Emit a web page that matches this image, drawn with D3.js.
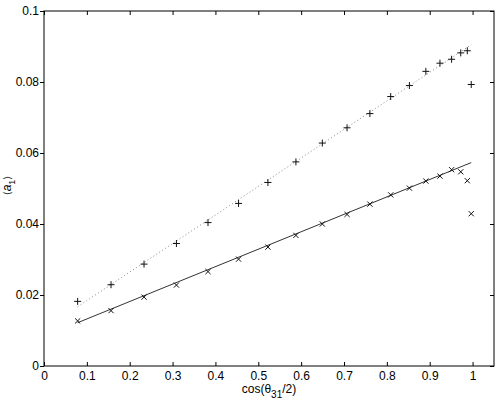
<!DOCTYPE html>
<html>
<head>
<meta charset="utf-8">
<script src="https://cdn.jsdelivr.net/npm/d3@7"></script>
<style>
  body { margin: 0; background: #fff; }
  svg { display: block; font-family: "Liberation Sans", Arial, Helvetica, sans-serif; }
</style>
</head>
<body>
<script>
// x values: cos(theta_31 / 2)
var cosVals = [0.0785, 0.1564, 0.2334, 0.3090, 0.3827, 0.4540, 0.5225, 0.5878, 0.6494, 0.7071,
               0.7604, 0.8090, 0.8526, 0.8910, 0.9239, 0.9511, 0.9724, 0.9877, 0.9969];
// "+" series
var plusVals = [0.0182, 0.0229, 0.0287, 0.0345, 0.0404, 0.0458, 0.0517, 0.0575, 0.0628, 0.0671,
                0.0711, 0.0759, 0.0790, 0.0830, 0.0853, 0.0864, 0.0882, 0.0888, 0.0793];
// "x" series
var crossVals = [0.0127, 0.0156, 0.0194, 0.0228, 0.0266, 0.0301, 0.0335, 0.0368, 0.0400, 0.0427,
                 0.0456, 0.0482, 0.0501, 0.0521, 0.0535, 0.0553, 0.0547, 0.0522, 0.0429];
// straight-line fits (end points)
var solidFit = [[0.0785, 0.0122], [0.9969, 0.0573]];
var dottedFit = [[0.0785, 0.0167], [0.9969, 0.0905]];

var xTicks = [0, 0.1, 0.2, 0.3, 0.4, 0.5, 0.6, 0.7, 0.8, 0.9, 1];
var yTicks = [0, 0.02, 0.04, 0.06, 0.08, 0.1];

var width = 498, height = 403;
var margins = {top: 11, left: 44, right: 4, bottom: 37};

var svg = d3.select("body").append("svg")
    .attr("width", width)
    .attr("height", height);

var x = d3.scaleLinear().domain([0, 1.05]).range([margins.left, width - margins.right]);
var y = d3.scaleLinear().domain([0, 0.1]).range([height - margins.bottom, margins.top]);

var x0 = x.range()[0], x1 = x.range()[1], y0 = y.range()[0], y1 = y.range()[1];
var tickLen = 4;

// axes: bottom + top with inward ticks, left + right
var bottomAxis = d3.axisBottom(x).tickValues(xTicks).tickSizeInner(-tickLen).tickSizeOuter(0)
    .tickPadding(5).tickFormat(d3.format("~g"));
svg.append("g").attr("class", "axis")
    .attr("transform", "translate(0," + y0 + ")")
    .call(bottomAxis);

svg.append("g").attr("class", "axis")
    .attr("transform", "translate(0," + y1 + ")")
    .call(d3.axisTop(x).tickValues(xTicks).tickSizeInner(-tickLen).tickSizeOuter(0).tickFormat(""));

svg.append("g").attr("class", "axis")
    .attr("transform", "translate(" + x0 + ",0)")
    .call(d3.axisLeft(y).tickValues(yTicks).tickSizeInner(tickLen).tickSizeOuter(0)
        .tickPadding(1).tickFormat(d3.format("~g")));

svg.append("g").attr("class", "axis")
    .attr("transform", "translate(" + x1 + ",0)")
    .call(d3.axisRight(y).tickValues(yTicks).tickSizeInner(-tickLen).tickSizeOuter(0).tickFormat(""));

svg.selectAll(".axis .domain").remove();
svg.selectAll(".axis line").attr("stroke", "#000");
svg.selectAll(".axis text")
    .attr("font-size", "12px")
    .attr("fill", "#000")
    .attr("font-family", "'Liberation Sans', Arial, sans-serif");

// frame
svg.append("rect")
    .attr("x", x0).attr("y", y1)
    .attr("width", x1 - x0).attr("height", y0 - y1)
    .attr("fill", "none").attr("stroke", "#000").attr("stroke-width", 1);

// fit lines
var line = d3.line().x(function(d) { return x(d[0]); }).y(function(d) { return y(d[1]); });

svg.append("path")
    .datum(dottedFit)
    .attr("d", line)
    .attr("fill", "none")
    .attr("stroke", "#888")
    .attr("stroke-width", 1)
    .attr("stroke-dasharray", "1,2.5");

svg.append("path")
    .datum(solidFit)
    .attr("d", line)
    .attr("fill", "none")
    .attr("stroke", "#333")
    .attr("stroke-width", 1);

// "+" markers
var pr = 3.5;
svg.append("g").selectAll("path")
    .data(cosVals.map(function(c, i) { return [c, plusVals[i]]; }))
    .enter().append("path")
    .attr("d", function(d) {
        var cx = x(d[0]), cy = y(d[1]);
        return "M" + (cx - pr) + "," + cy + "H" + (cx + pr) + "M" + cx + "," + (cy - pr) + "V" + (cy + pr);
    })
    .attr("stroke", "#111").attr("stroke-width", 1).attr("fill", "none");

// "x" markers
var cr = 2.6;
svg.append("g").selectAll("path")
    .data(cosVals.map(function(c, i) { return [c, crossVals[i]]; }))
    .enter().append("path")
    .attr("d", function(d) {
        var cx = x(d[0]), cy = y(d[1]);
        return "M" + (cx - cr) + "," + (cy - cr) + "L" + (cx + cr) + "," + (cy + cr) +
               "M" + (cx - cr) + "," + (cy + cr) + "L" + (cx + cr) + "," + (cy - cr);
    })
    .attr("stroke", "#111").attr("stroke-width", 1).attr("fill", "none");

// x label: cos(θ31/2)
var xl = svg.append("text")
    .attr("x", (x0 + x1) / 2)
    .attr("y", 393)
    .attr("text-anchor", "middle")
    .attr("font-size", "12px")
    .attr("fill", "#000");
xl.append("tspan").text("cos(θ");
xl.append("tspan").attr("font-size", "10px").attr("dy", 5).text("31");
xl.append("tspan").attr("dy", -5).text("/2)");

// y label: ⟨a1⟩
var yl = svg.append("text")
    .attr("transform", "translate(11," + ((y0 + y1) / 2 - 3) + ") rotate(-90)")
    .attr("text-anchor", "middle")
    .attr("font-size", "12px")
    .attr("fill", "#000");
yl.append("tspan").attr("font-family", "'DejaVu Sans', sans-serif").attr("font-size", "10px").text("⟨");
yl.append("tspan").attr("font-style", "italic").text("a");
yl.append("tspan").attr("font-size", "9px").attr("dy", 4).text("1");
yl.append("tspan").attr("dy", -4).attr("font-family", "'DejaVu Sans', sans-serif").attr("font-size", "10px").text("⟩");
</script>
</body>
</html>
